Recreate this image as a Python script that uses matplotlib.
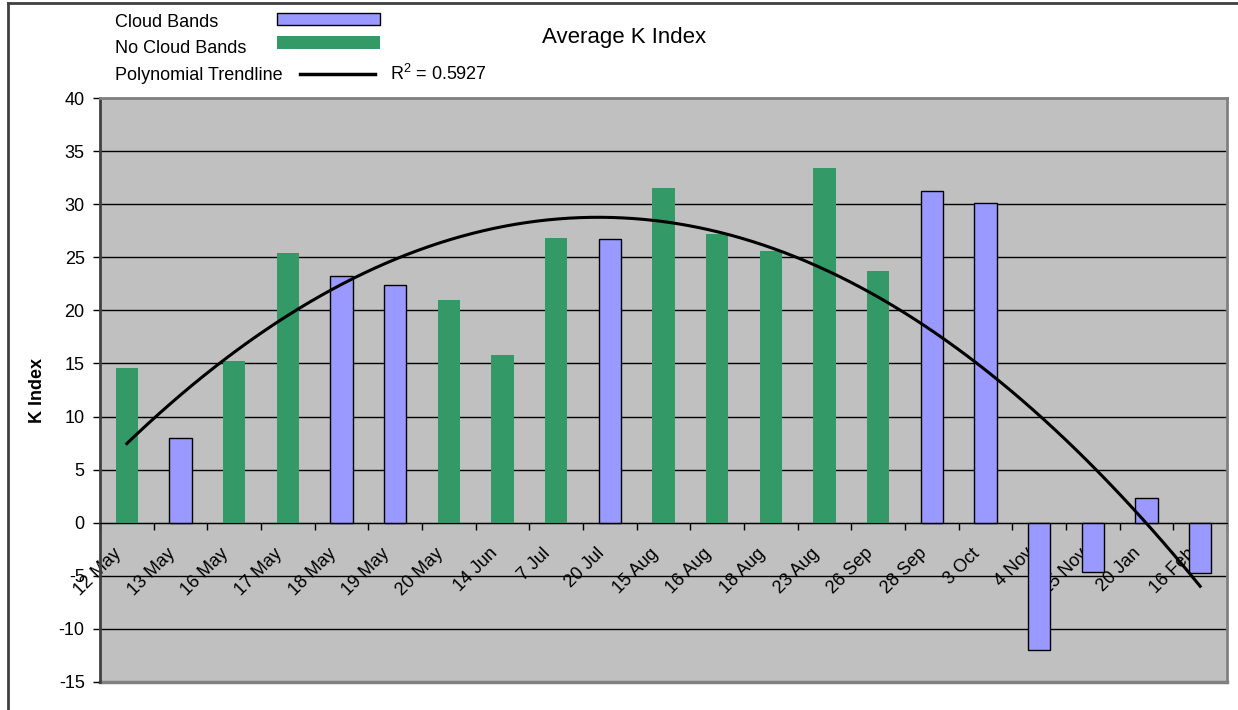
import numpy as np
import matplotlib.pyplot as plt
import matplotlib.transforms as mtransforms
from matplotlib.patches import Rectangle
from matplotlib.lines import Line2D

plt.rcParams['font.family'] = ['Liberation Sans', 'DejaVu Sans']
plt.rcParams['mathtext.default'] = 'regular'
plt.rcParams['axes.unicode_minus'] = False

# observation dates and averaged K index per night
dates = ["12 May", "13 May", "16 May", "17 May", "18 May", "19 May", "20 May",
         "14 Jun", "7 Jul", "20 Jul", "15 Aug", "16 Aug", "18 Aug", "23 Aug",
         "26 Sep", "28 Sep", "3 Oct", "4 Nov", "15 Nov", "20 Jan", "16 Feb"]
k_index = [14.6, 8.0, 15.2, 25.4, 23.2, 22.4, 21.0,
           15.8, 26.8, 26.7, 31.5, 27.2, 25.6, 33.4,
           23.7, 31.2, 30.1, -12.0, -4.6, 2.3, -4.7]
# True where cloud bands were seen
cloud = [False, True, False, False, True, True, False,
         False, False, True, False, False, False, False,
         False, True, True, True, True, True, True]
r_squared = "0.5927"
y_ticks = list(range(-15, 41, 5))

BLUE = '#9999FF'
GREEN = '#339966'
W, H = 1238, 710


def fpos(x, y):
    # pixel position -> figure fraction
    return x / W, 1 - y / H


fig = plt.figure(figsize=(W / 100, H / 100), dpi=100)
ax = fig.add_axes([100 / W, 1 - 682 / H, 1127 / W, 584 / H])
ax.set_facecolor('#C0C0C0')

x = np.arange(len(dates))
vals = np.array(k_index)
cl = np.array(cloud)

ax.bar(x[cl], vals[cl], width=0.42, color=BLUE, edgecolor='black', linewidth=1, zorder=2)
ax.bar(x[~cl], vals[~cl], width=0.42, color=GREEN, edgecolor='none', zorder=2)

# second order polynomial trend through all nights
coeffs = np.polyfit(x, vals, 2)
xs = np.linspace(x[0], x[-1], 200)
ax.plot(xs, np.polyval(coeffs, xs), color='black', lw=2.2, zorder=3)

ax.set_xlim(-0.5, len(dates) - 0.5)
ax.set_ylim(-15, 40)

for yv in y_ticks[1:-1]:
    ax.axhline(yv, color='black', lw=1, zorder=1)
ax.axhline(-15, color='#808080', lw=2.5, zorder=1, clip_on=False)

ax.spines['bottom'].set_position(('data', 0))
ax.spines['bottom'].set_color('black')
ax.spines['bottom'].set_zorder(2.5)
ax.spines['left'].set_color('#404040')
ax.spines['left'].set_linewidth(2)
for s in ['top', 'right']:
    ax.spines[s].set_color('#808080')
    ax.spines[s].set_linewidth(2)

ax.set_yticks(y_ticks)
ax.tick_params(axis='y', length=5, width=1, pad=6, labelsize=13, color='black')

ax.set_xticks(x)
ax.set_xticks(np.arange(-0.5, len(dates), 1.0), minor=True)
ax.set_xticklabels(dates, rotation=45, ha='right', va='top', rotation_mode='anchor', fontsize=13)
ax.tick_params(axis='x', which='major', length=0, pad=16)
ax.tick_params(axis='x', which='minor', length=5, width=1, color='black')
shift = mtransforms.ScaledTranslation(-14 / 100, 0, fig.dpi_scale_trans)
for lbl in ax.get_xticklabels():
    lbl.set_transform(lbl.get_transform() + shift)

fig.text(*fpos(37, 390), "K Index", rotation=90, ha='center', va='center',
         fontsize=13, fontweight='bold')
fig.text(*fpos(624, 43), "Average K Index", ha='center', va='baseline', fontsize=16)

# key in the upper left corner
fig.text(*fpos(115, 27), "Cloud Bands", va='baseline', fontsize=13)
fig.text(*fpos(115, 53), "No Cloud Bands", va='baseline', fontsize=13)
fig.text(*fpos(115, 80), "Polynomial Trendline", va='baseline', fontsize=13)
fig.text(*fpos(390, 80), "R$^2$ = " + r_squared, va='baseline', fontsize=13)
fig.add_artist(Rectangle(fpos(277, 24.5), 103 / W, 12 / H, transform=fig.transFigure,
                         facecolor=BLUE, edgecolor='black', linewidth=1))
fig.add_artist(Rectangle(fpos(277, 49), 103 / W, 13 / H, transform=fig.transFigure,
                         facecolor=GREEN, edgecolor='none'))
lx0, ly = fpos(300, 74)
lx1, _ = fpos(375, 74)
fig.add_artist(Line2D([lx0, lx1], [ly, ly], color='black', lw=2.5, transform=fig.transFigure))

# outer chart frame
fx, fy0 = fpos(8, 2.5)
fig.add_artist(Line2D([fx, fx], [0, fy0], color='#404040', lw=2, transform=fig.transFigure))
fig.add_artist(Line2D([fx, 1], [fy0, fy0], color='#404040', lw=2, transform=fig.transFigure))

fig.savefig('out.png', dpi=100, facecolor='white')
